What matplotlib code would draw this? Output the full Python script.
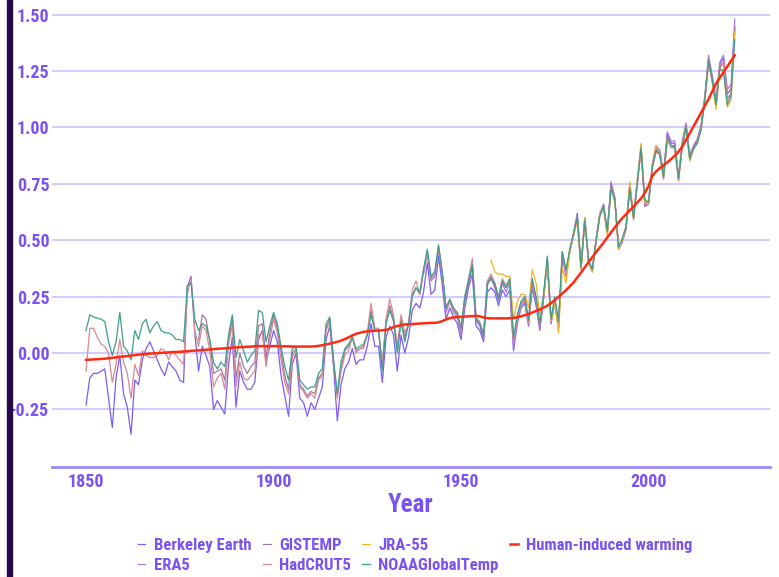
import matplotlib
matplotlib.use("Agg")
import matplotlib.pyplot as plt
from matplotlib import font_manager
from matplotlib.patches import Rectangle
import numpy as np

# temperature anomalies (degC)
years = np.arange(1850, 2024)

berkeley = [
    -0.23, -0.11, -0.09, -0.09, -0.08, -0.07, -0.20, -0.33, -0.11, -0.01,
    -0.18, -0.24, -0.36, -0.12, -0.14, -0.03, 0.02, 0.05, 0.01, -0.03,
    -0.07, -0.10, -0.04, -0.06, -0.08, -0.12, -0.13, 0.29, 0.34, 0.09,
    -0.08, 0.03, -0.01, -0.06, -0.25, -0.21, -0.24, -0.27, -0.05, 0.07,
    -0.24, -0.08, -0.13, -0.16, -0.16, -0.13, 0.06, 0.10, -0.04, 0.03,
    0.10, 0.05, -0.10, -0.19, -0.28, -0.05, 0.00, -0.20, -0.22, -0.28,
    -0.22, -0.25, -0.20, -0.15, 0.06, 0.12, -0.06, -0.30, -0.14, -0.07,
    -0.04, 0.02, -0.05, -0.03, -0.03, 0.03, 0.13, 0.03, 0.03, -0.13,
    0.07, 0.12, 0.08, -0.08, 0.08, 0.00, 0.07, 0.19, 0.22, 0.20,
    0.27, 0.40, 0.26, 0.28, 0.43, 0.30, 0.15, 0.20, 0.16, 0.13,
    0.06, 0.20, 0.29, 0.35, 0.12, 0.10, 0.05, 0.27, 0.29, 0.27,
    0.21, 0.28, 0.25, 0.28, 0.01, 0.13, 0.20, 0.22, 0.12, 0.29,
    0.21, 0.10, 0.24, 0.40, 0.13, 0.22, 0.11, 0.43, 0.34, 0.45,
    0.53, 0.62, 0.38, 0.60, 0.41, 0.37, 0.50, 0.61, 0.66, 0.53,
    0.75, 0.69, 0.46, 0.49, 0.55, 0.74, 0.60, 0.75, 0.91, 0.65,
    0.66, 0.83, 0.91, 0.89, 0.79, 0.97, 0.93, 0.93, 0.78, 0.93,
    1.01, 0.87, 0.91, 0.94, 1.00, 1.13, 1.30, 1.22, 1.11, 1.28,
    1.31, 1.15, 1.17, 1.45,
]

hadcrut5 = [
    -0.08, 0.11, 0.11, 0.07, 0.04, 0.03, 0.00, -0.13, -0.05, 0.06,
    -0.04, -0.09, -0.20, -0.05, -0.10, 0.01, -0.01, -0.02, -0.02, -0.01,
    0.02, 0.01, -0.03, 0.01, -0.01, -0.03, -0.05, 0.26, 0.33, 0.10,
    0.03, 0.12, 0.10, 0.01, -0.15, -0.11, -0.09, -0.16, 0.04, 0.12,
    -0.15, -0.04, -0.11, -0.12, -0.10, -0.08, 0.08, 0.09, -0.06, 0.06,
    0.15, 0.09, -0.03, -0.13, -0.18, -0.02, 0.02, -0.15, -0.17, -0.20,
    -0.18, -0.20, -0.12, -0.10, 0.10, 0.14, -0.04, -0.20, -0.08, -0.01,
    0.01, 0.07, 0.00, 0.02, 0.02, 0.09, 0.22, 0.11, 0.11, -0.05,
    0.15, 0.24, 0.17, 0.03, 0.17, 0.09, 0.13, 0.28, 0.32, 0.26,
    0.36, 0.44, 0.33, 0.35, 0.47, 0.35, 0.19, 0.23, 0.19, 0.18,
    0.10, 0.25, 0.33, 0.42, 0.16, 0.14, 0.08, 0.32, 0.35, 0.31,
    0.25, 0.33, 0.30, 0.33, 0.05, 0.15, 0.22, 0.24, 0.13, 0.31,
    0.24, 0.12, 0.25, 0.42, 0.14, 0.24, 0.12, 0.45, 0.35, 0.45,
    0.52, 0.59, 0.37, 0.59, 0.40, 0.36, 0.49, 0.61, 0.64, 0.53,
    0.73, 0.67, 0.46, 0.50, 0.56, 0.73, 0.59, 0.76, 0.90, 0.66,
    0.66, 0.82, 0.89, 0.88, 0.77, 0.95, 0.91, 0.91, 0.77, 0.92,
    1.00, 0.86, 0.90, 0.93, 0.99, 1.12, 1.29, 1.20, 1.10, 1.26,
    1.29, 1.12, 1.15, 1.43,
]

noaa = [
    0.10, 0.17, 0.16, 0.155, 0.15, 0.14, 0.05, -0.01, 0.05, 0.18,
    0.03, 0.01, -0.03, 0.10, 0.06, 0.13, 0.15, 0.09, 0.12, 0.14,
    0.10, 0.09, 0.09, 0.08, 0.06, 0.06, 0.05, 0.30, 0.31, 0.15,
    0.10, 0.13, 0.12, 0.06, -0.04, -0.07, -0.04, -0.06, 0.08, 0.17,
    -0.02, 0.06, 0.01, -0.04, -0.01, 0.01, 0.19, 0.18, 0.05, 0.12,
    0.18, 0.13, 0.03, -0.06, -0.12, 0.02, 0.03, -0.12, -0.14, -0.16,
    -0.15, -0.15, -0.09, -0.07, 0.13, 0.16, -0.03, -0.18, -0.04, 0.02,
    0.04, 0.07, 0.02, 0.03, 0.04, 0.08, 0.17, 0.10, 0.10, -0.08,
    0.13, 0.19, 0.14, 0.00, 0.14, 0.05, 0.13, 0.25, 0.29, 0.27,
    0.37, 0.46, 0.34, 0.36, 0.48, 0.36, 0.20, 0.24, 0.20, 0.18,
    0.11, 0.25, 0.32, 0.39, 0.15, 0.13, 0.08, 0.31, 0.33, 0.31,
    0.24, 0.32, 0.29, 0.33, 0.07, 0.17, 0.23, 0.25, 0.15, 0.33,
    0.25, 0.13, 0.26, 0.43, 0.15, 0.25, 0.14, 0.45, 0.37, 0.46,
    0.53, 0.60, 0.38, 0.59, 0.41, 0.37, 0.50, 0.61, 0.65, 0.54,
    0.73, 0.68, 0.47, 0.51, 0.56, 0.73, 0.60, 0.76, 0.91, 0.68,
    0.67, 0.82, 0.90, 0.88, 0.78, 0.95, 0.92, 0.91, 0.77, 0.92,
    1.00, 0.86, 0.91, 0.93, 0.99, 1.12, 1.29, 1.21, 1.10, 1.26,
    1.25, 1.10, 1.14, 1.39,
]

gistemp_years = np.arange(1880, 2024)
gistemp = [
    0.06, 0.17, 0.15, 0.05, -0.09, -0.08, -0.07, -0.12, 0.06, 0.15,
    -0.11, 0.00, -0.06, -0.09, -0.06, -0.04, 0.12, 0.13, -0.02, 0.09,
    0.17, 0.11, 0.00, -0.10, -0.16, 0.00, 0.02, -0.14, -0.16, -0.19,
    -0.17, -0.18, -0.11, -0.09, 0.11, 0.15, -0.04, -0.19, -0.07, 0.01,
    0.03, 0.07, 0.01, 0.02, 0.03, 0.08, 0.19, 0.10, 0.10, -0.06,
    0.14, 0.21, 0.15, 0.01, 0.15, 0.07, 0.13, 0.26, 0.29, 0.26,
    0.37, 0.45, 0.33, 0.35, 0.47, 0.35, 0.20, 0.23, 0.19, 0.17,
    0.10, 0.24, 0.32, 0.40, 0.15, 0.13, 0.07, 0.31, 0.34, 0.30,
    0.24, 0.32, 0.29, 0.32, 0.05, 0.15, 0.22, 0.24, 0.14, 0.32,
    0.24, 0.12, 0.25, 0.42, 0.14, 0.24, 0.12, 0.44, 0.36, 0.45,
    0.53, 0.60, 0.37, 0.59, 0.41, 0.36, 0.49, 0.61, 0.65, 0.53,
    0.74, 0.68, 0.46, 0.50, 0.55, 0.74, 0.60, 0.75, 0.90, 0.67,
    0.67, 0.82, 0.90, 0.88, 0.78, 0.96, 0.92, 0.92, 0.77, 0.92,
    1.01, 0.86, 0.91, 0.94, 1.00, 1.13, 1.30, 1.21, 1.10, 1.27,
    1.29, 1.13, 1.15, 1.44,
]

era5_years = np.arange(1940, 2024)
era5 = [
    0.35, 0.44, 0.32, 0.34, 0.46, 0.35, 0.18, 0.23, 0.18, 0.16,
    0.08, 0.23, 0.31, 0.38, 0.14, 0.12, 0.06, 0.30, 0.33, 0.29,
    0.23, 0.31, 0.27, 0.31, 0.03, 0.14, 0.21, 0.23, 0.13, 0.30,
    0.23, 0.11, 0.24, 0.41, 0.14, 0.23, 0.11, 0.44, 0.35, 0.46,
    0.53, 0.61, 0.38, 0.60, 0.41, 0.37, 0.50, 0.62, 0.66, 0.54,
    0.76, 0.69, 0.47, 0.50, 0.56, 0.75, 0.61, 0.76, 0.92, 0.66,
    0.67, 0.84, 0.92, 0.90, 0.80, 0.98, 0.94, 0.94, 0.78, 0.94,
    1.02, 0.88, 0.92, 0.95, 1.01, 1.14, 1.32, 1.23, 1.12, 1.29,
    1.32, 1.17, 1.19, 1.48,
]

jra55_years = np.arange(1958, 2024)
jra55 = [
    0.41, 0.36,
    0.35, 0.35, 0.34, 0.34, 0.15, 0.23, 0.26, 0.26, 0.20, 0.37,
    0.31, 0.17, 0.25, 0.40, 0.14, 0.22, 0.09, 0.38, 0.31, 0.45,
    0.52, 0.59, 0.37, 0.60, 0.40, 0.36, 0.50, 0.62, 0.65, 0.52,
    0.73, 0.68, 0.46, 0.50, 0.56, 0.76, 0.60, 0.76, 0.93, 0.67,
    0.67, 0.83, 0.92, 0.88, 0.78, 0.95, 0.92, 0.91, 0.76, 0.92,
    1.00, 0.85, 0.91, 0.93, 0.99, 1.12, 1.29, 1.20, 1.08, 1.26,
    1.25, 1.09, 1.12, 1.42,
]

human = [
    -0.030, -0.029, -0.028, -0.027, -0.026, -0.025, -0.023, -0.021, -0.019, -0.017,
    -0.015, -0.013, -0.011, -0.009, -0.007, -0.005, -0.004, -0.002, -0.001, 0.000,
    0.001, 0.002, 0.003, 0.004, 0.005, 0.006, 0.007, 0.008, 0.010, 0.011,
    0.012, 0.013, 0.015, 0.016, 0.018, 0.019, 0.020, 0.021, 0.022, 0.024,
    0.025, 0.026, 0.027, 0.028, 0.029, 0.030, 0.031, 0.031, 0.031, 0.031,
    0.031, 0.031, 0.030, 0.030, 0.030, 0.029, 0.029, 0.029, 0.029, 0.029,
    0.029, 0.030, 0.032, 0.035, 0.038, 0.042, 0.046, 0.050, 0.055, 0.062,
    0.070, 0.078, 0.085, 0.090, 0.094, 0.097, 0.098, 0.099, 0.100, 0.101,
    0.103, 0.108, 0.115, 0.120, 0.124, 0.127, 0.128, 0.129, 0.130, 0.131,
    0.132, 0.133, 0.134, 0.134, 0.136, 0.142, 0.149, 0.155, 0.158, 0.160,
    0.161, 0.162, 0.163, 0.164, 0.165, 0.163, 0.158, 0.155, 0.154, 0.154,
    0.154, 0.154, 0.154, 0.155, 0.156, 0.159, 0.163, 0.168, 0.173, 0.180,
    0.187, 0.194, 0.201, 0.210, 0.222, 0.235, 0.249, 0.264, 0.279, 0.296,
    0.313, 0.335, 0.357, 0.380, 0.403, 0.425, 0.447, 0.468, 0.490, 0.512,
    0.535, 0.557, 0.578, 0.598, 0.615, 0.632, 0.650, 0.668, 0.685, 0.710,
    0.740, 0.785, 0.805, 0.820, 0.832, 0.845, 0.860, 0.875, 0.893, 0.915,
    0.945, 0.975, 1.005, 1.035, 1.065, 1.095, 1.125, 1.160, 1.195, 1.220,
    1.245, 1.270, 1.295, 1.320,
]

yticks = [-0.25, 0.0, 0.25, 0.5, 0.75, 1.0, 1.25, 1.5]
xticks = [1850, 1900, 1950, 2000]

text_col = "#7A52F4"

# pick a narrow font if one is installed, otherwise a narrowish one at a smaller size
fonts = font_manager.fontManager.ttflist
names = {f.name for f in fonts}
stretch = "normal"
if "Liberation Sans Narrow" in names:
    family, fs = "Liberation Sans Narrow", 13
elif "Roboto Condensed" in names:
    family, fs = "Roboto Condensed", 13
elif any(f.name == "DejaVu Sans" and "condensed" in str(f.stretch) for f in fonts):
    family, fs, stretch = "DejaVu Sans", 12, "condensed"
else:
    family, fs = "Roboto", 11
plt.rcParams["font.family"] = [family, "DejaVu Sans"]
plt.rcParams["font.stretch"] = stretch
plt.rcParams["font.weight"] = "bold"

fig = plt.figure(figsize=(7.79, 5.77), dpi=100)
ax = fig.add_axes([0.0668, 0.1906, 0.9217, 0.7957])

# dark bar on the left edge
fig.patches.append(Rectangle((0.0095, 0), 0.0065, 1, transform=fig.transFigure,
                             color="#26074A", zorder=0))

series = [
    ("Berkeley Earth", years, berkeley, "#7D5CF7"),
    ("ERA5", era5_years, era5, "#A47AE0"),
    ("GISTEMP", gistemp_years, gistemp, "#A0789E"),
    ("HadCRUT5", years, hadcrut5, "#D98A92"),
    ("JRA-55", jra55_years, jra55, "#F5B12A"),
    ("NOAAGlobalTemp", years, noaa, "#3E9E8C"),
]
for name, xs, ys, col in series:
    ax.plot(xs, ys, color=col, lw=0.9, label=name)
ax.plot(years, human, color="#FF2A12", lw=1.8, label="Human-induced warming")

ax.set_xlim(1840.93, 2032.4)
ax.set_ylim(-0.505, 1.53)
ax.set_yticks(yticks)
ax.set_yticklabels([f"{v:.2f}" for v in yticks])
ax.set_xticks(xticks)
ax.grid(axis="y", color="#CBC2FF", lw=1.2)
ax.set_axisbelow(True)
for s in ["top", "right", "left"]:
    ax.spines[s].set_visible(False)
ax.spines["bottom"].set_color("#9C88F7")
ax.spines["bottom"].set_linewidth(2)
ax.tick_params(length=0, colors=text_col, labelsize=fs, pad=4)
ax.tick_params(axis="y", pad=2)
for lab in ax.get_xticklabels() + ax.get_yticklabels():
    lab.set_fontweight("bold")

ax.set_xlabel("Year", color=text_col, fontsize=fs + 5, fontweight="bold", labelpad=2)

handles, labels = ax.get_legend_handles_labels()
leg = fig.legend(handles, labels, ncol=4, loc="center", bbox_to_anchor=(0.533, 0.037),
                 frameon=False, handlelength=0.45, handletextpad=0.5, columnspacing=0.7,
                 labelspacing=0.3, prop={"size": fs - 1, "weight": "bold"})
for t in leg.get_texts():
    t.set_color(text_col)

fig.savefig("out.png", dpi=100)
